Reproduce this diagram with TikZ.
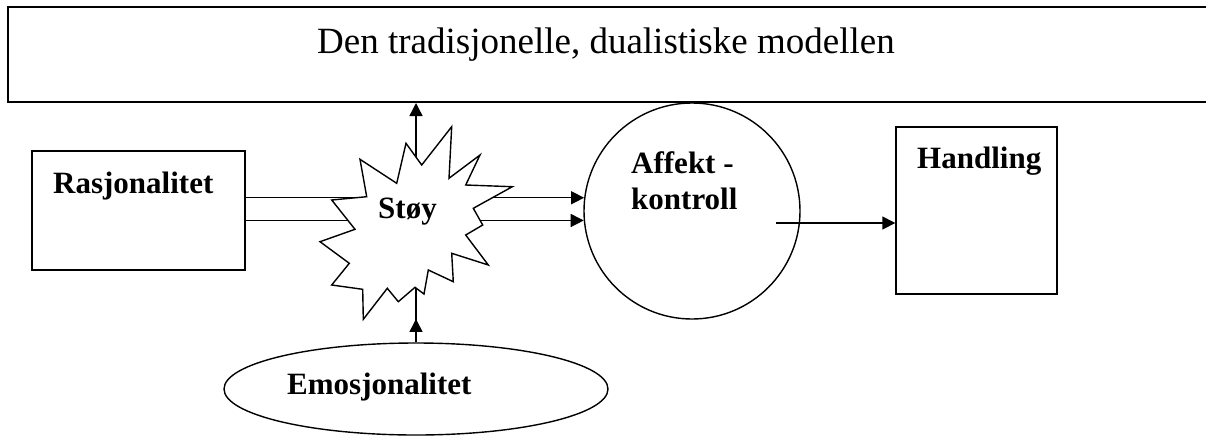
\documentclass[tikz,border=0pt]{standalone}
\usepackage{fontspec}
\setmainfont{Liberation Serif}
\usetikzlibrary{arrows.meta,shapes.geometric,decorations.markings}
\tikzset{
  shapeline/.style={draw=black, line width=1.4pt, inner sep=0pt, fill=white},
  lbl/.style={anchor=base west, inner sep=0pt, font=\fontsize{31}{36}\selectfont\bfseries},
  arr/.style={line width=1.4pt, -{Triangle[length=13pt,width=13pt]}},
  plainline/.style={line width=1.4pt},
}
\begin{document}
\begin{tikzpicture}[x=1pt,y=-1pt]
\clip (0,0) rectangle (1206,437);
\fill[white] (0,0) rectangle (1206,437);
% top box
\node[draw=black, line width=2pt, inner sep=0pt, minimum width=1212pt, minimum height=95pt] (top) at (614,54.5) {};
\node[anchor=base west, inner sep=0pt, font=\fontsize{37}{44}\selectfont] (title) at (317,53) {Den tradisjonelle, dualistiske modellen};
% boxes
\node[shapeline, rectangle, minimum width=213pt, minimum height=119pt] (rasj) at (138.5,210.5) {};
\node[shapeline, rectangle, minimum width=161pt, minimum height=167pt] (hand) at (976.5,210.5) {};
\node[shapeline, circle, minimum size=216pt] (circ) at (692,211) {};
\node[shapeline, ellipse, minimum width=384pt, minimum height=92pt] (emo) at (416,389) {};
% connectors
\draw[arr] (rasj.east |- circ.173.6) -- (circ.173.6);
\draw[arr] (rasj.east |- circ.185.8) -- (circ.185.8);
\coordinate (stTop) at (416,157);
\coordinate (stBot) at (416,288);
\coordinate (outStart) at (776,223);
\draw[arr] (stTop) -- (top.south -| stTop);
\draw[plainline, decoration={markings, mark=at position 0.43 with {\arrow{Triangle[length=13pt,width=13pt]}}}, postaction={decorate}] (emo.north) -- (stBot);
\draw[arr] (outStart) -- (hand.west |- outStart);
% starburst
\draw[line width=1.4pt, fill=white, line join=miter]
 (421.7,165) -- (451.7,126.7) -- (449,178.3) -- (480,155) -- (465.7,185) -- (512.3,186.7)
 -- (473.3,208.3) -- (482.7,225) -- (465.7,235) -- (488.3,265) -- (451.7,253.3) -- (453.3,281.7)
 -- (428.3,270) -- (424,294) -- (415,287.3) -- (398.3,301.7) -- (387.3,288.3) -- (363.3,319.3)
 -- (362.7,289.3) -- (331.7,285) -- (349.3,263.3) -- (320,241.7) -- (355,229.3) -- (331.7,200)
 -- (366.7,196.7) -- (360,159.3) -- (396.7,183.3) -- (406,143.3) -- cycle;
% labels
\node[lbl] (trasj) at (53,193) {Rasjonalitet};
\node[lbl] (tstoy) at (378,218) {Støy};
\node[lbl] (taff) at (631,173) {Affekt -};
\node[lbl] (tkon) at (631,209) {kontroll};
\node[lbl] (thand) at (917,168) {Handling};
\node[lbl] (temo) at (287,394) {Emosjonalitet};
\end{tikzpicture}
\end{document}
